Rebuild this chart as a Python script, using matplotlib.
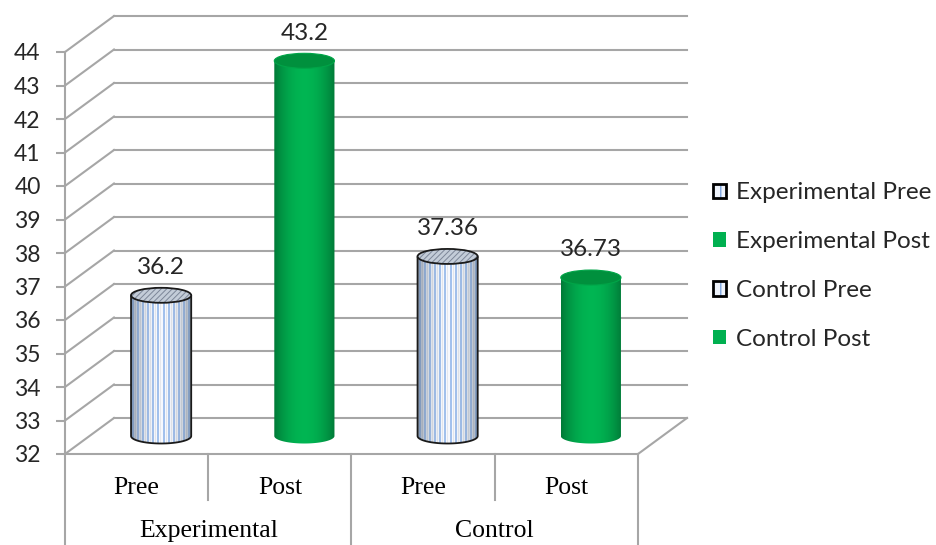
import numpy as np
import matplotlib
matplotlib.use("Agg")
import matplotlib.pyplot as plt
from matplotlib.patches import Ellipse, Polygon, Patch
from matplotlib.legend_handler import HandlerTuple

# data
groups = ['Experimental', 'Control']
phases = ['Pree', 'Post', 'Pree', 'Post']
series = ['Experimental Pree', 'Experimental Post', 'Control Pree', 'Control Post']
values = [36.2, 43.2, 37.36, 36.73]
value_labels = ['36.2', '43.2', '37.36', '36.73']
kinds = ['stripe', 'green', 'stripe', 'green']
yticks = list(range(32, 45))

GRID = '#a6a6a6'
GREEN = np.array([0, 176, 80]) / 255
YMIN, YMAX = 32, 44
NCAT = len(values)

plt.rcParams['hatch.linewidth'] = 0.7

fig = plt.figure(figsize=(9.37, 5.45), dpi=100)
ax = fig.add_axes([65 / 937, 91 / 545, 573 / 937, 402 / 545])
ax.set_xlim(0, NCAT)
ax.set_ylim(YMIN, YMAX)

# depth of the 3d box in data units (about 49px right, 36px up)
DX = 49 / (573 / NCAT)
DY = 36 / (402 / (YMAX - YMIN))

for s in ax.spines.values():
    s.set_visible(False)
ax.set_xticks([])
ax.set_yticks(yticks)
ax.set_yticklabels([str(t) for t in yticks], family='Lato', fontsize=16.5, color='#262626')
ax.tick_params(axis='y', length=6.5, width=1.5, color=GRID, pad=11)

# back wall + left wall
for v in yticks:
    ax.plot([DX, NCAT + DX], [v + DY, v + DY], color=GRID, lw=1.5, clip_on=False, zorder=1)
    ax.plot([0, DX], [v, v + DY], color=GRID, lw=1.5, clip_on=False, zorder=1)
# floor
ax.plot([0, NCAT], [YMIN, YMIN], color=GRID, lw=1.5, clip_on=False, zorder=1)
ax.plot([NCAT, NCAT + DX], [YMIN, YMIN + DY], color=GRID, lw=1.5, clip_on=False, zorder=1)

# category axis box below the floor
px = (YMAX - YMIN) / 402
ax.plot([0, 0], [YMAX, YMIN - 100 * px], color=GRID, lw=1.5, clip_on=False)
for x in [2, 4]:
    ax.plot([x, x], [YMIN, YMIN - 100 * px], color=GRID, lw=1.5, clip_on=False)
for x in [1, 3]:
    ax.plot([x, x], [YMIN, YMIN - 46 * px], color=GRID, lw=1.5, clip_on=False)

centers = np.arange(NCAT) + 0.5
for c, lab in zip(centers, phases):
    ax.text(c, YMIN - 34 * px, lab, ha='center', va='center', family='Liberation Serif',
            fontsize=18.5, color='black', clip_on=False)
for i, g in enumerate(groups):
    ax.text(2 * i + 1, YMIN - 77 * px, g, ha='center', va='center', family='Liberation Serif',
            fontsize=18.5, color='black', clip_on=False)

# cylinders
W = 0.42
EH = 15 * px
n = 60
t = (np.arange(n) + 0.5) / n
shade = np.sin(np.pi * t)


def green_img():
    b = 0.55 + 0.48 * np.clip(np.sin(np.pi * (t * 0.9 + 0.05)), 0, 1) ** 0.7
    row = np.clip(GREEN[None, :] * b[:, None], 0, 1)
    return np.repeat(row[None, :, :], 2, axis=0)


def stripe_img():
    edge = np.array([0.52, 0.57, 0.64])
    light = np.array([0.97, 0.98, 1.0])
    blue = np.array([0.64, 0.76, 0.93])
    s = shade ** 0.6
    base = edge[None, :] + (light - edge)[None, :] * s[:, None]
    row = base.copy()
    idx = np.arange(n)
    m = (idx % 5 == 1) | (idx % 5 == 2)
    row[m] = blue[None, :] * (0.72 + 0.28 * s[m, None])
    m2 = idx % 5 == 4
    row[m2] = row[m2] * 0.93
    return np.repeat(row[None, :, :], 2, axis=0)


def body_poly(xc, y0, y1):
    th = np.linspace(np.pi, 2 * np.pi, 60)
    bx = xc + W / 2 * np.cos(th)
    by = y0 + EH / 2 * np.sin(th)
    xs = np.concatenate([[xc - W / 2], bx, [xc + W / 2]])
    ys = np.concatenate([[y1], by, [y1]])
    return np.column_stack([xs, ys])


for c, v, kind, lab in zip(centers, values, kinds, value_labels):
    xc = c + DX / 2
    y0 = YMIN + DY / 2
    y1 = v + DY / 2
    poly = Polygon(body_poly(xc, y0, y1), closed=True, transform=ax.transData)
    img = green_img() if kind == 'green' else stripe_img()
    im = ax.imshow(img, extent=(xc - W / 2, xc + W / 2, y0 - EH, y1), aspect='auto',
                   interpolation='bilinear' if kind == 'green' else 'nearest', zorder=3)
    im.set_clip_path(poly)
    if kind == 'green':
        ax.add_patch(Ellipse((xc, y1), W, EH, facecolor='#00903d', edgecolor='#00a548',
                             lw=0.8, zorder=4))
    else:
        outline = Polygon(body_poly(xc, y0, y1), closed=False, fill=False,
                          edgecolor='#1a1a1a', lw=1.3, zorder=4)
        ax.add_patch(outline)
        ax.add_patch(Ellipse((xc, y1), W, EH, facecolor='#c3ccd8', edgecolor='#7c8698',
                             hatch='//////', lw=0, zorder=4))
        ax.add_patch(Ellipse((xc, y1), W, EH, facecolor='none', edgecolor='#1a1a1a',
                             lw=1.3, zorder=5))
    ax.annotate(lab, (xc, y1), xytext=(0, 20), textcoords='offset points', ha='center',
                va='center', family='Lato', fontsize=17.5, color='#262626', zorder=6)

ax.set_xlim(0, NCAT)
ax.set_ylim(YMIN, YMAX)

# legend
handles = []
for kind in kinds:
    if kind == 'stripe':
        handles.append((Patch(facecolor='#eef3fb', edgecolor='#4f86d4', hatch='||', lw=0),
                        Patch(facecolor='none', edgecolor='black', lw=2.0)))
    else:
        handles.append(Patch(facecolor='#00b050', edgecolor='none'))
fig.legend(handles, series, loc='center left', bbox_to_anchor=(713 / 937, 1 - 266 / 545),
           frameon=False, prop={'family': 'Lato', 'size': 17.5}, handlelength=0.55,
           handleheight=0.55, handletextpad=0.4, labelspacing=1.14, borderpad=0,
           borderaxespad=0, labelcolor='#262626',
           handler_map={tuple: HandlerTuple(ndivide=1)})

fig.savefig('out.png', dpi=100)
